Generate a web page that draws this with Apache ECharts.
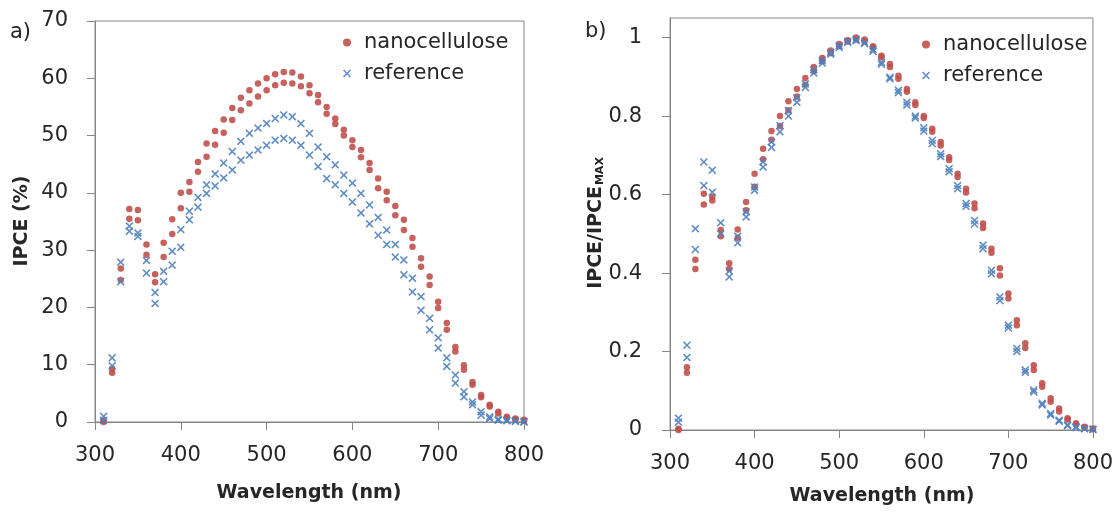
<!DOCTYPE html>
<html><head><meta charset="utf-8">
<script src="https://cdn.jsdelivr.net/npm/echarts@6/dist/echarts.min.js"></script>
<style>html,body{margin:0;padding:0;background:#fff}#c{width:1116px;height:514px}</style>
</head><body><div id="c"></div>
<script>
// ---- data ----
const wavelengths = [310,320,330,340,350,360,370,380,390,400,410,420,430,440,450,460,470,480,490,500,
  510,520,530,540,550,560,570,580,590,600,610,620,630,640,650,660,670,680,690,700,
  710,720,730,740,750,760,770,780,790,800];

// panel a) IPCE (%) – two measurements per device
const ipceNano1 = [0.2,9.3,26.8,37.2,37.0,31.0,25.8,31.3,35.4,40.0,41.9,45.4,48.6,50.8,52.8,54.8,56.6,57.9,59.1,60.0,
  60.7,61.1,61.0,60.3,58.8,57.1,55.0,53.0,51.0,49.2,47.5,45.2,42.5,40.2,37.7,35.3,32.1,28.6,25.4,21.0,
  17.3,13.1,9.9,7.0,4.7,3.0,1.8,0.9,0.6,0.4];
const ipceNano2 = [0.0,8.6,24.8,35.5,35.2,29.2,24.4,28.8,32.8,37.3,40.2,43.7,46.3,48.4,50.5,52.7,54.4,55.6,56.8,57.9,
  58.8,59.2,59.1,58.6,57.4,55.8,53.8,52.0,50.0,48.0,46.2,44.0,40.8,38.7,36.1,33.5,30.6,27.1,23.9,19.9,
  16.1,12.3,9.1,6.5,4.3,2.7,1.5,0.7,0.4,0.2];
const ipceRef1 = [1.0,11.2,27.9,34.2,33.0,28.2,22.6,26.3,29.8,33.6,36.8,39.2,41.4,43.3,45.2,47.2,49.0,50.4,51.3,52.1,
  53.0,53.6,53.3,52.1,50.4,48.0,46.3,44.9,43.1,41.7,39.9,37.9,35.7,33.5,31.0,28.3,25.1,21.9,18.1,14.7,
  11.2,8.2,5.3,3.5,1.8,0.9,0.5,0.3,0.2,0.1];
const ipceRef2 = [0.3,9.8,24.5,33.3,32.4,26.0,20.7,24.5,27.4,30.5,35.3,37.5,39.9,41.2,42.6,44.0,45.7,46.6,47.5,48.3,
  49.2,49.5,49.2,48.3,46.6,44.6,42.5,41.4,39.9,38.4,36.5,34.6,32.6,31.0,28.8,25.7,22.7,19.5,16.1,12.9,
  9.7,6.8,4.4,3.0,1.2,0.6,0.3,0.2,0.1,0.0];

// panel b) IPCE / IPCE_MAX
const normNano1 = [0.003,0.16,0.434,0.602,0.594,0.51,0.425,0.511,0.581,0.653,0.717,0.762,0.80,0.838,0.869,0.897,0.925,0.948,0.967,0.984,
  0.993,1.0,0.995,0.978,0.954,0.933,0.903,0.869,0.835,0.80,0.768,0.734,0.695,0.653,0.615,0.577,0.526,0.462,0.412,0.348,
  0.28,0.221,0.165,0.119,0.081,0.055,0.030,0.017,0.008,0.004];
const normNano2 = [0.0,0.146,0.41,0.575,0.585,0.494,0.41,0.49,0.56,0.62,0.69,0.74,0.775,0.815,0.85,0.88,0.915,0.94,0.96,0.978,
  0.99,0.995,0.99,0.975,0.95,0.925,0.895,0.862,0.828,0.795,0.76,0.725,0.688,0.645,0.605,0.565,0.515,0.452,0.394,0.335,
  0.267,0.209,0.153,0.110,0.072,0.047,0.027,0.014,0.006,0.002];
const normRef1 = [0.03,0.216,0.513,0.683,0.662,0.528,0.405,0.494,0.556,0.619,0.683,0.734,0.776,0.814,0.847,0.882,0.918,0.942,0.962,0.979,
  0.99,0.995,0.988,0.97,0.937,0.899,0.866,0.835,0.80,0.770,0.738,0.704,0.666,0.623,0.577,0.534,0.471,0.407,0.339,0.267,
  0.208,0.153,0.102,0.068,0.042,0.025,0.013,0.008,0.004,0.002];
const normRef2 = [0.02,0.185,0.46,0.623,0.606,0.50,0.39,0.477,0.543,0.611,0.67,0.72,0.76,0.80,0.835,0.873,0.91,0.935,0.958,0.975,
  0.988,0.992,0.985,0.965,0.932,0.895,0.86,0.828,0.795,0.762,0.73,0.697,0.658,0.615,0.57,0.525,0.462,0.398,0.33,0.26,
  0.2,0.147,0.097,0.064,0.038,0.022,0.011,0.006,0.003,0.001];

const xTicks = [300,400,500,600,700,800];
const yTicksA = [0,10,20,30,40,50,60,70];
const yTicksB = [0,0.2,0.4,0.6,0.8,1];

// ---- chart ----
const FONT = 'DejaVu Sans';
const RED = '#c0504d';
const BLUE = '#4f81bd';
const AXIS = '#868686';
const TXT = '#262626';
const XMARK = 'path://M0,1.4L1.4,0L5,3.6L8.6,0L10,1.4L6.4,5L10,8.6L8.6,10L5,6.4L1.4,10L0,8.6L3.6,5Z';

function pts(vals){ return wavelengths.map((w,i)=>[w, vals[i]]); }

function xAxis(gi){
  return {gridIndex: gi, type:'value', min:300, max:800, interval:100,
    axisLine:{show:true, onZero:false, lineStyle:{color:AXIS, width:1}},
    axisTick:{show:true, inside:false, length:8, lineStyle:{color:AXIS}, customValues:xTicks},
    axisLabel:{margin:23, fontSize:21, fontFamily:FONT, color:TXT, customValues:xTicks},
    splitLine:{show:false}};
}

const chart = echarts.init(document.getElementById('c'), null, {renderer:'canvas'});
const option = {
  animation:false,
  backgroundColor:'#fff',
  grid:[
    {left:95, top:21, right:592, bottom:92, show:true, borderColor:AXIS, borderWidth:1, backgroundColor:'transparent'},
    {left:670, top:18, right:22, bottom:84, show:true, borderColor:AXIS, borderWidth:1, backgroundColor:'transparent'}
  ],
  xAxis:[xAxis(0), xAxis(1)],
  yAxis:[
    {gridIndex:0, type:'value', min:0, max:70, interval:10,
      axisLine:{show:true, onZero:false, lineStyle:{color:AXIS}},
      axisTick:{show:true, length:8, lineStyle:{color:AXIS}, customValues:yTicksA},
      axisLabel:{margin:27, fontSize:21, fontFamily:FONT, color:TXT, customValues:yTicksA},
      splitLine:{show:false}},
    {gridIndex:1, type:'value', min:0, max:1.05,
      axisLine:{show:true, onZero:false, lineStyle:{color:AXIS}},
      axisTick:{show:true, length:8, lineStyle:{color:AXIS}, customValues:yTicksB},
      axisLabel:{margin:28, fontSize:21, fontFamily:FONT, color:TXT, customValues:yTicksB},
      splitLine:{show:false}}
  ],
  legend:[
    {data:['nanocellulose','reference'], orient:'vertical', left:338, top:27, itemWidth:8, itemHeight:8, itemGap:10,
      textStyle:{fontSize:21, fontFamily:FONT, color:TXT, padding:[0,0,0,8]}},
    {data:['nanocellulose','reference'], orient:'vertical', left:917, top:29, itemWidth:8, itemHeight:8, itemGap:10,
      textStyle:{fontSize:21, fontFamily:FONT, color:TXT, padding:[0,0,0,8]}}
  ],
  series:[
    {name:'nanocellulose', type:'scatter', xAxisIndex:0, yAxisIndex:0, data:pts(ipceNano1), symbol:'circle', symbolSize:6.5, itemStyle:{color:RED, opacity:0.9}},
    {name:'nanocellulose', type:'scatter', xAxisIndex:0, yAxisIndex:0, data:pts(ipceNano2), symbol:'circle', symbolSize:6.5, itemStyle:{color:RED, opacity:0.9}},
    {name:'reference', type:'scatter', xAxisIndex:0, yAxisIndex:0, data:pts(ipceRef1), symbol:XMARK, symbolSize:8, itemStyle:{color:BLUE, opacity:0.9}},
    {name:'reference', type:'scatter', xAxisIndex:0, yAxisIndex:0, data:pts(ipceRef2), symbol:XMARK, symbolSize:8, itemStyle:{color:BLUE, opacity:0.9}},
    {name:'nanocellulose', type:'scatter', xAxisIndex:1, yAxisIndex:1, data:pts(normNano1), symbol:'circle', symbolSize:6.5, itemStyle:{color:RED, opacity:0.9}},
    {name:'nanocellulose', type:'scatter', xAxisIndex:1, yAxisIndex:1, data:pts(normNano2), symbol:'circle', symbolSize:6.5, itemStyle:{color:RED, opacity:0.9}},
    {name:'reference', type:'scatter', xAxisIndex:1, yAxisIndex:1, data:pts(normRef1), symbol:XMARK, symbolSize:8, itemStyle:{color:BLUE, opacity:0.9}},
    {name:'reference', type:'scatter', xAxisIndex:1, yAxisIndex:1, data:pts(normRef2), symbol:XMARK, symbolSize:8, itemStyle:{color:BLUE, opacity:0.9}}
  ],
  graphic:[
    {type:'text', left:10, top:22, style:{text:'a)', fontSize:21, fontFamily:FONT, fill:TXT}},
    {type:'text', left:585, top:21, style:{text:'b)', fontSize:21, fontFamily:FONT, fill:TXT}},
    {type:'text', x:309, y:493, style:{text:'Wavelength (nm)', fontSize:19, fontWeight:'bold', fontFamily:FONT, fill:TXT, align:'center', verticalAlign:'middle'}},
    {type:'text', x:882, y:496, style:{text:'Wavelength (nm)', fontSize:19, fontWeight:'bold', fontFamily:FONT, fill:TXT, align:'center', verticalAlign:'middle'}},
    {type:'text', x:22, y:221, rotation:Math.PI/2, style:{text:'IPCE (%)', fontSize:19, fontWeight:'bold', fontFamily:FONT, fill:TXT, align:'center', verticalAlign:'middle'}},
    {type:'text', x:594, y:223, rotation:Math.PI/2, style:{text:'{b|IPCE/IPCE}{s|MAX}', align:'center', verticalAlign:'middle',
      rich:{b:{fontSize:19, fontWeight:'bold', fontFamily:FONT, fill:TXT, verticalAlign:'bottom', lineHeight:24},
            s:{fontSize:11, fontWeight:'bold', fontFamily:FONT, fill:TXT, verticalAlign:'bottom', lineHeight:24, padding:[6,0,0,1]}}}}
  ]
};
chart.setOption(option);
</script>
</body></html>
